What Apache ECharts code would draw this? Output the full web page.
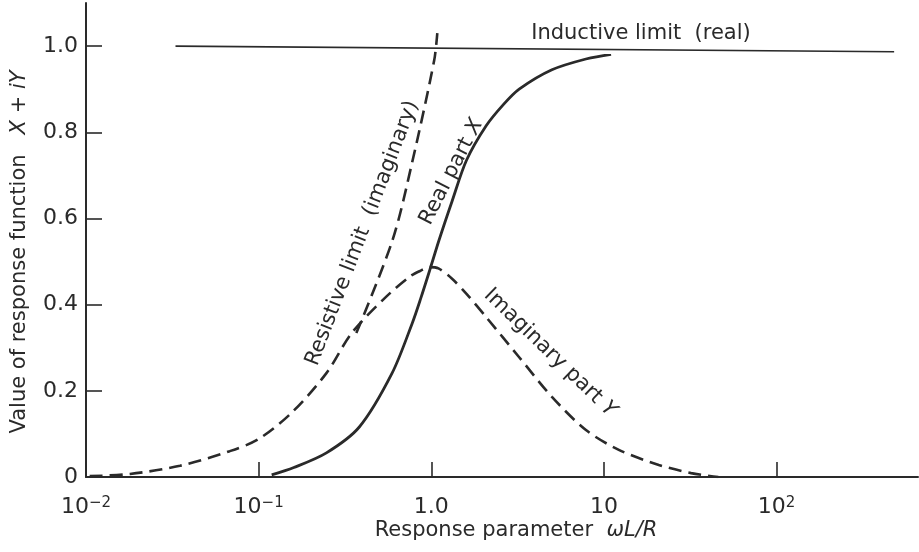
<!DOCTYPE html>
<html><head><meta charset="utf-8">
<script src="https://cdn.jsdelivr.net/npm/echarts@6/dist/echarts.min.js"></script>
<style>html,body{margin:0;padding:0;background:#fff}#c{width:919px;height:552px}</style>
</head><body><div id="c"></div>
<script>
// ---- data ----
const xTicks = [0.01, 0.1, 1, 10, 100];
const xTickLabels = ['10{sup|−2}', '10{sup|−1}', '1.0', '10', '10{sup|2}'];
const yTicks = [0, 0.2, 0.4, 0.6, 0.8, 1.0];
const yTickLabels = ['0', '0.2', '0.4', '0.6', '0.8', '1.0'];

const realX = [[0.119,0.005],[0.16,0.022],[0.247,0.056],[0.383,0.116],[0.593,0.241],[0.776,0.357],[0.87,0.415],[0.98,0.48],[1.11,0.55],[1.32,0.64],[1.6,0.735],[2.08,0.815],[2.6,0.863],[3.23,0.9],[5.0,0.945],[7.87,0.97],[11.0,0.981]];
const imagY = [[0.0105,0.002],[0.018,0.007],[0.035,0.026],[0.068,0.06],[0.1,0.088],[0.157,0.151],[0.247,0.241],[0.346,0.334],[0.547,0.418],[0.75,0.465],[0.87,0.479],[0.98,0.487],[1.1,0.484],[1.32,0.46],[1.6,0.425],[2.08,0.371],[3.23,0.278],[5.0,0.186],[7.87,0.109],[12.2,0.063],[20.8,0.028],[32,0.009],[46,0.0]];
const resistiveLimit = [[0.368,0.334],[0.597,0.55],[0.78,0.735],[1.04,0.967],[1.084,1.03]];
const inductiveLimit = [[0.033,1.0],[480,0.987]];

const annotationTexts = ['Inductive limit  (real)', 'Real part {i|X}', 'Resistive limit  (imaginary)', 'Imaginary part {i|Y}'];

// ---- chart ----
const INK = '#2a2a2a';
const FONT = 'DejaVu Sans';
const annotationLayout = [
  {at: [16.4, 1.028], rotate: 0},
  {at: [1.31, 0.708], rotate: 63},
  {at: [0.399, 0.566], rotate: 69},
  {at: [4.88, 0.288], rotate: -44}
];
const chart = echarts.init(document.getElementById('c'), null, {renderer: 'canvas'});
const richStyles = {
  i: {fontStyle: 'italic', fontSize: 21, fontFamily: FONT, color: INK},
  sup: {fontSize: 15, fontFamily: FONT, color: INK, verticalAlign: 'top', lineHeight: 12}
};
const curve = {type: 'line', showSymbol: false, silent: true, smooth: 0.3};
chart.setOption({
  backgroundColor: '#fff',
  animation: false,
  grid: {left: 86, right: 1, top: 3, bottom: 75, containLabel: false, outerBoundsMode: 'none'},
  xAxis: {
    type: 'log', logBase: 10, min: 0.01, max: 660,
    name: 'Response parameter  {i|ωL/R}',
    nameLocation: 'middle', nameGap: 43, nameMoveOverlap: false,
    nameTextStyle: {fontSize: 21, fontFamily: FONT, color: INK, padding: [0, 0, 0, 28], rich: richStyles},
    axisLine: {lineStyle: {color: INK, width: 2}},
    axisTick: {inside: true, length: 15, customValues: xTicks, lineStyle: {color: INK, width: 1.6}},
    axisLabel: {
      customValues: xTicks, margin: 19, fontSize: 22, fontFamily: FONT, color: INK,
      formatter: v => { const k = Math.round(Math.log10(v)) + 2; return xTickLabels[k] || ''; },
      rich: richStyles
    },
    splitLine: {show: false}, minorTick: {show: false}
  },
  yAxis: {
    type: 'value', min: 0, max: 1.1,
    name: 'Value of response function   {i|X + iY}',
    nameLocation: 'middle', nameGap: 56, nameRotate: 90, nameMoveOverlap: false,
    nameTextStyle: {fontSize: 21, fontFamily: FONT, color: INK, padding: [0, 24, 0, 0], rich: richStyles},
    axisLine: {show: true, lineStyle: {color: INK, width: 2}},
    axisTick: {show: true, inside: true, length: 16, customValues: yTicks.slice(1), lineStyle: {color: INK, width: 1.6}},
    axisLabel: {
      customValues: yTicks, margin: 8, fontSize: 22, fontFamily: FONT, color: INK,
      formatter: v => { const k = Math.round(v * 5); return yTickLabels[k] || ''; }
    },
    splitLine: {show: false}
  },
  series: [
    Object.assign({}, curve, {name: 'Inductive limit (real)', data: inductiveLimit, smooth: false,
     lineStyle: {color: INK, width: 1.6}}),
    Object.assign({}, curve, {name: 'Real part X', data: realX,
     lineStyle: {color: INK, width: 2.8}}),
    Object.assign({}, curve, {name: 'Imaginary part Y', data: imagY,
     lineStyle: {color: INK, width: 2.6, type: [13, 7]}}),
    Object.assign({}, curve, {name: 'Resistive limit (imaginary)', data: resistiveLimit,
     lineStyle: {color: INK, width: 2.6, type: [13, 7]}}),
    {name: 'labels', type: 'scatter', symbolSize: 0, silent: true, itemStyle: {opacity: 1},
     data: annotationTexts.map((t, k) => ({
       value: annotationLayout[k].at,
       label: {show: true, position: 'inside', rotate: annotationLayout[k].rotate, opacity: 1,
               formatter: t, fontSize: 21, fontFamily: FONT, color: INK, rich: richStyles}
     }))}
  ]
});
</script></body></html>
